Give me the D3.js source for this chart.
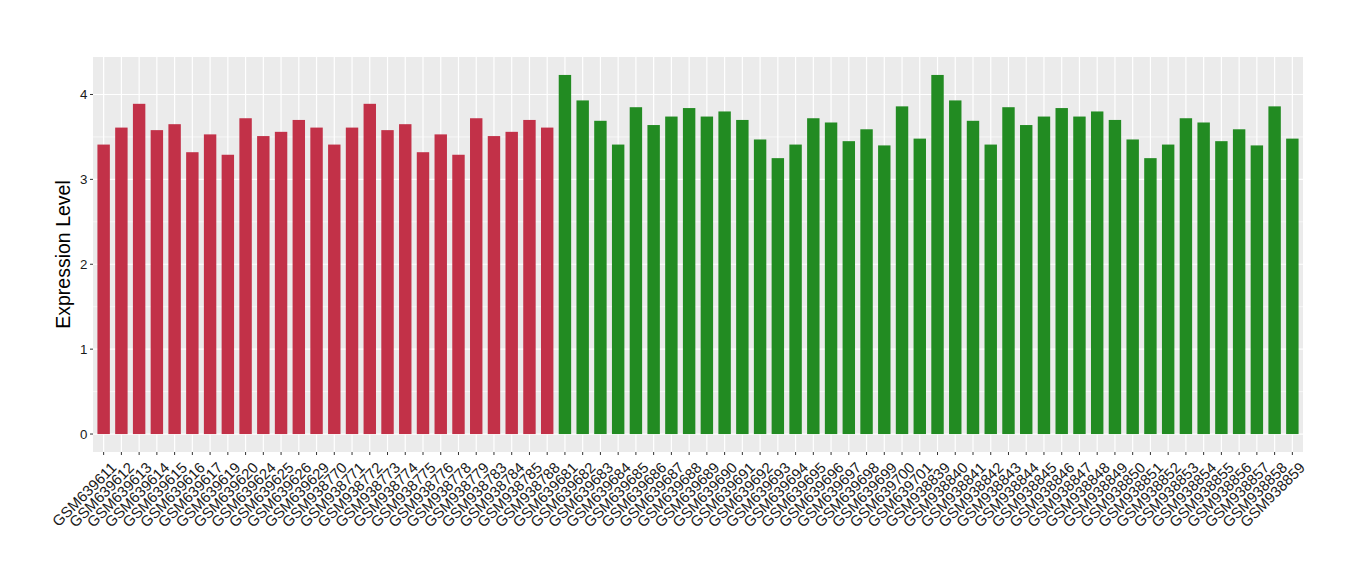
<!DOCTYPE html>
<html><head><meta charset="utf-8">
<script src="https://cdn.jsdelivr.net/npm/d3@7/dist/d3.min.js"></script>
<style>body{margin:0;background:#fff}svg text{font-family:"Liberation Sans",Arial,sans-serif}</style>
</head><body><svg id="c" width="1360" height="580"></svg>
<script>
const samples = ["GSM639611","GSM639612","GSM639613","GSM639614","GSM639615","GSM639616","GSM639617","GSM639619","GSM639620","GSM639624","GSM639625","GSM639626","GSM639629",
"GSM938770","GSM938771","GSM938772","GSM938773","GSM938774","GSM938775","GSM938776","GSM938778","GSM938779","GSM938783","GSM938784","GSM938785","GSM938788",
"GSM639681","GSM639682","GSM639683","GSM639684","GSM639685","GSM639686","GSM639687","GSM639688","GSM639689","GSM639690","GSM639691","GSM639692","GSM639693","GSM639694","GSM639695","GSM639696","GSM639697","GSM639698","GSM639699","GSM639700","GSM639701",
"GSM938839","GSM938840","GSM938841","GSM938842","GSM938843","GSM938844","GSM938845","GSM938846","GSM938847","GSM938848","GSM938849","GSM938850","GSM938851","GSM938852","GSM938853","GSM938854","GSM938855","GSM938856","GSM938857","GSM938858","GSM938859"];
const values = [3.41,3.61,3.89,3.58,3.65,3.32,3.53,3.29,3.72,3.51,3.56,3.70,3.61,
3.41,3.61,3.89,3.58,3.65,3.32,3.53,3.29,3.72,3.51,3.56,3.70,3.61,
4.23,3.93,3.69,3.41,3.85,3.64,3.74,3.84,3.74,3.80,3.70,3.47,3.25,3.41,3.72,3.67,3.45,3.59,3.40,3.86,3.48,
4.23,3.93,3.69,3.41,3.85,3.64,3.74,3.84,3.74,3.80,3.70,3.47,3.25,3.41,3.72,3.67,3.45,3.59,3.40,3.86,3.48];
const groups = [...Array(26).fill("A"), ...Array(42).fill("B")];
const groupColors = {A:"#C23148", B:"#228B22"};
const yTicks = [0,1,2,3,4];
const yMinor = [0.5,1.5,2.5,3.5];

const L=93, R=1303, T=57, B=452;
const svg = d3.select("#c");
const n = samples.length;
const step = (R-L)/(n-1+1.2);
const xp = d3.scalePoint().domain(samples).range([L+0.6*step, R-0.6*step]);
const bw = step*0.7;
const maxV = d3.max(values);
const y = d3.scaleLinear().domain([-0.05*maxV, maxV*1.05]).range([B, T]);

svg.append("rect").attr("x",L).attr("y",T).attr("width",R-L).attr("height",B-T).attr("fill","#EBEBEB");
svg.selectAll(".gmin").data(yMinor).enter().append("line")
 .attr("x1",L).attr("x2",R).attr("y1",d=>y(d)).attr("y2",d=>y(d)).attr("stroke","#fff").attr("stroke-width",0.6);
svg.selectAll(".gmaj").data(yTicks).enter().append("line")
 .attr("x1",L).attr("x2",R).attr("y1",d=>y(d)).attr("y2",d=>y(d)).attr("stroke","#fff").attr("stroke-width",1.2);
svg.selectAll(".gx").data(samples).enter().append("line")
 .attr("x1",d=>xp(d)).attr("x2",d=>xp(d)).attr("y1",T).attr("y2",B).attr("stroke","#fff").attr("stroke-width",1.2);

svg.selectAll(".bar").data(samples).enter().append("rect")
 .attr("x",(d)=>xp(d)-bw/2).attr("width",bw)
 .attr("y",(d,i)=>y(values[i])).attr("height",(d,i)=>y(0)-y(values[i]))
 .attr("fill",(d,i)=>groupColors[groups[i]]);

// y axis
const ya = svg.append("g");
yTicks.forEach(t=>{
  ya.append("line").attr("x1",L-3).attr("x2",L).attr("y1",y(t)).attr("y2",y(t)).attr("stroke","#333").attr("stroke-width",1);
  ya.append("text").attr("x",L-5.5).attr("y",y(t)).attr("dy","0.36em").attr("text-anchor","end")
    .attr("font-size",13.3).attr("fill","#1a1a1a").text(t);
});
// x axis
const xa = svg.append("g");
samples.forEach(s=>{
  const cx = xp(s);
  xa.append("line").attr("x1",cx).attr("x2",cx).attr("y1",B).attr("y2",B+3).attr("stroke","#333").attr("stroke-width",1);
  xa.append("text").attr("transform",`translate(${cx+6},${B+9}) rotate(-45)`)
    .attr("text-anchor","end").attr("dy","0.72em").attr("font-size",15).attr("fill","#1a1a1a").text(s);
});
svg.append("text").attr("transform",`translate(70,${(T+B)/2}) rotate(-90)`).attr("text-anchor","middle")
 .attr("font-size",19.5).attr("fill","#000").text("Expression Level");
</script></body></html>
